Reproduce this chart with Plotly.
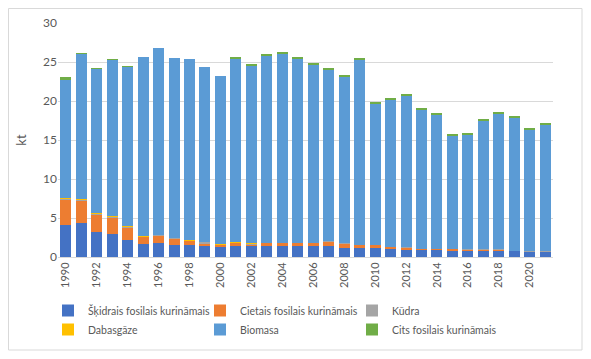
import plotly.graph_objects as go

years = list(range(1990, 2022))

liquid = [4.14, 4.31, 3.24, 2.99, 2.22, 1.71, 1.83, 1.58, 1.58, 1.45, 1.32, 1.45, 1.45, 1.45, 1.45, 1.45,
          1.45, 1.45, 1.19, 1.19, 1.19, 1.06, 0.94, 0.97, 0.97, 0.81, 0.81, 0.81, 0.81, 0.81, 0.68, 0.72]
solid = [3.29, 2.91, 2.18, 2.09, 1.58, 0.89, 0.94, 0.77, 0.51, 0.34, 0.26, 0.38, 0.17, 0.38, 0.38, 0.38,
         0.38, 0.55, 0.56, 0.39, 0.39, 0.26, 0.29, 0.09, 0.09, 0.25, 0.16, 0.16, 0.16, 0.0, 0.0, 0.03]
peat = [0.04, 0.15, 0.12, 0.10, 0.10, 0.02, 0.08, 0.10, 0.02, 0.15, 0.02, 0.02, 0.05, 0.01, 0.01, 0.01,
        0.01, 0.01, 0.01, 0.01, 0.01, 0.01, 0.01, 0.01, 0.01, 0.01, 0.01, 0.01, 0.01, 0.01, 0.13, 0.05]
gas = [0.15, 0.05, 0.10, 0.02, 0.02, 0.13, 0.02, 0.02, 0.13, 0.02, 0.02, 0.13, 0.10, 0.0, 0.0, 0.0,
       0.0, 0.0, 0.0, 0.0, 0.0, 0.0, 0.0, 0.0, 0.0, 0.0, 0.0, 0.0, 0.0, 0.0, 0.0, 0.0]
biomass = [15.11, 18.64, 18.50, 20.09, 20.48, 22.93, 23.96, 23.08, 23.10, 22.44, 21.62, 23.44, 22.84, 23.97,
           24.22, 23.58, 22.81, 22.00, 21.36, 23.79, 18.06, 18.84, 19.44, 17.81, 17.13, 14.48, 14.70, 16.49,
           17.39, 17.04, 15.51, 16.16]
other = [0.30, 0.05, 0.03, 0.02, 0.02, 0.0, 0.0, 0.0, 0.0, 0.0, 0.0, 0.13, 0.17, 0.13, 0.13, 0.13,
         0.26, 0.13, 0.25, 0.17, 0.26, 0.12, 0.13, 0.13, 0.30, 0.13, 0.26, 0.26, 0.13, 0.13, 0.13, 0.13]

series = [
    ("Šķidrais fosilais kurināmais", liquid, "#4472C4"),
    ("Cietais fosilais kurināmais", solid, "#ED7D31"),
    ("Kūdra", peat, "#A5A5A5"),
    ("Dabasgāze", gas, "#FFC000"),
    ("Biomasa", biomass, "#5B9BD5"),
    ("Cits fosilais kurināmais", other, "#70AD47"),
]

fig = go.Figure()
for name, vals, col in series:
    fig.add_trace(go.Bar(x=years, y=vals, name=name, marker=dict(color=col, line=dict(width=0))))

# page body has an 8px default margin; lay the figure out in page pixels minus that offset
OFF = 8
W, H = 591 - OFF, 359 - OFF
PL, PR, PT, PB = 58, 553, 23, 257          # plot area in page pixels
l, r, t, b = PL - OFF, W - (PR - OFF), PT - OFF, H - (PB - OFF)
pw, ph = PR - PL, PB - PT


def px_x(p):
    return (p - PL) / pw


def px_y(p):
    return (PB - p) / ph


fig.update_layout(
    width=W, height=H,
    barmode="stack", bargap=0.29,
    margin=dict(l=l, r=r, t=t, b=b, pad=0, autoexpand=False),
    paper_bgcolor="white", plot_bgcolor="white",
    font=dict(family="Lato, Liberation Sans, sans-serif", size=11, color="#595959"),
    xaxis=dict(range=[1989.5, 2021.5], tick0=1990, dtick=2, tickangle=-90,
               showgrid=False, showline=True, linecolor="#D9D9D9", linewidth=1,
               ticks="", zeroline=False, automargin=False,
               tickfont=dict(size=11, color="#595959")),
    yaxis=dict(range=[0, 30], dtick=5, showgrid=True, gridcolor="#D9D9D9", gridwidth=1,
               zeroline=False, showline=False, ticks="", automargin=False,
               tickfont=dict(size=12, color="#595959"),
               title=dict(text="kt", font=dict(size=13, color="#595959"), standoff=13)),
    legend=dict(orientation="h", x=px_x(48), xanchor="left",
                y=px_y(296), yanchor="top",
                entrywidth=107, entrywidthmode="pixels", itemwidth=30,
                font=dict(size=10.5, color="#595959"),
                traceorder="normal", bgcolor="rgba(0,0,0,0)"),
    shapes=[dict(type="rect", xref="paper", yref="paper",
                 x0=px_x(OFF + 0.5), x1=px_x(582), y0=px_y(350), y1=px_y(OFF + 0.5),
                 line=dict(color="#D9D9D9", width=1), fillcolor="rgba(0,0,0,0)", layer="above")],
    showlegend=True,
)

fig.write_html("out.html")
